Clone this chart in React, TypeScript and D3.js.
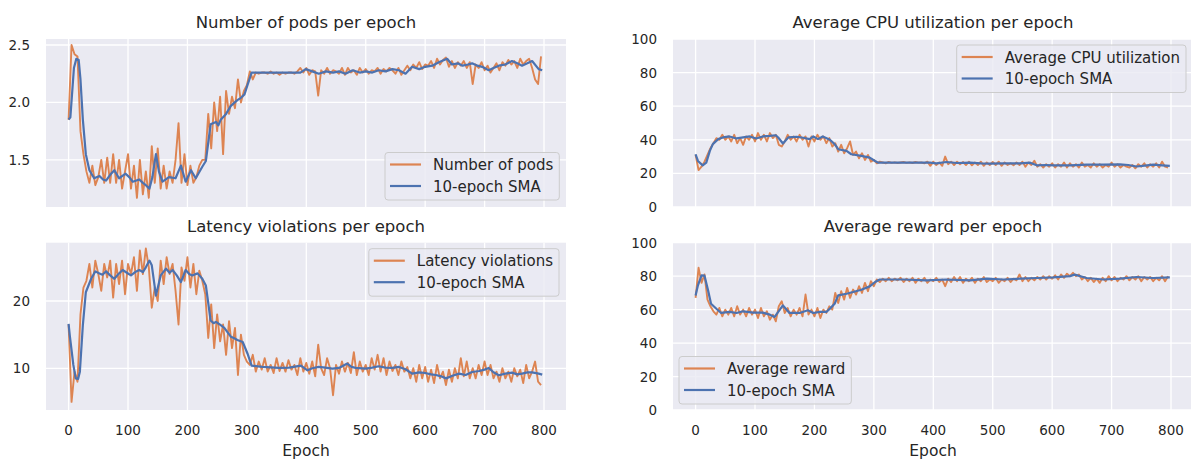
import React, { useEffect, useRef } from "react";
import * as d3 from "d3";

// raw values, one every 5 epochs (0..795)
const epochs = d3.range(0, 800, 5);

const podsRaw = [
  1.85, 2.5, 2.42, 2.4, 1.75, 1.55, 1.4, 1.3, 1.45, 1.28,
  1.35, 1.5, 1.3, 1.52, 1.3, 1.55, 1.3, 1.5, 1.25, 1.4,
  1.55, 1.25, 1.45, 1.17, 1.5, 1.2, 1.4, 1.17, 1.62, 1.3,
  1.6, 1.25, 1.45, 1.25, 1.4, 1.3, 1.5, 1.82, 1.3, 1.55,
  1.28, 1.45, 1.3, 1.35, 1.45, 1.5, 1.5, 1.9, 1.6, 2.0,
  1.75, 2.05, 1.55, 2.1, 1.9, 2.05, 1.95, 2.2, 2.0, 2.1,
  2.15, 2.27, 2.2, 2.26, 2.25, 2.26, 2.26, 2.25, 2.27, 2.25,
  2.26, 2.24, 2.26, 2.25, 2.26, 2.26, 2.25, 2.27, 2.3, 2.26,
  2.3, 2.24, 2.28, 2.27, 2.06, 2.28, 2.25, 2.3, 2.25, 2.28,
  2.27, 2.25, 2.3, 2.24, 2.3, 2.26, 2.28, 2.24, 2.3, 2.26,
  2.29, 2.25, 2.28, 2.27, 2.3, 2.25, 2.29, 2.27, 2.3, 2.28,
  2.25, 2.3, 2.24, 2.28, 2.32, 2.28, 2.33, 2.3, 2.35, 2.29,
  2.33, 2.32, 2.36, 2.3, 2.38, 2.33, 2.37, 2.39, 2.31, 2.36,
  2.3, 2.35, 2.32, 2.36, 2.3, 2.35, 2.16, 2.33, 2.3, 2.35,
  2.28, 2.32, 2.26, 2.3, 2.34, 2.28, 2.35, 2.32, 2.37, 2.33,
  2.36, 2.3, 2.38, 2.33, 2.36, 2.38, 2.3, 2.2, 2.16, 2.4,
];

const latencyRaw = [
  16.5, 5.0, 9.5, 8.0, 18.0, 22.0, 23.0, 25.5, 22.0, 26.0,
  24.0, 21.5, 25.5, 23.5, 26.0, 20.5, 25.5, 22.5, 26.0, 21.0,
  25.5, 24.0, 26.5, 21.5, 27.5, 24.0, 27.8, 25.0, 19.0, 22.0,
  20.0, 26.0, 22.5, 26.5, 24.0, 25.5, 21.5, 16.5, 25.0, 23.0,
  26.5, 22.0, 25.5, 21.0, 24.5, 23.0, 21.0, 14.5, 19.5, 13.0,
  18.0, 14.0, 16.5, 12.0, 17.0, 13.0, 16.0, 9.0, 15.0, 12.0,
  11.0, 10.5, 12.0, 9.5, 11.0, 9.8, 11.5, 9.5, 10.5, 9.3,
  11.5, 9.6, 10.8, 9.5, 11.2, 9.8, 10.5, 9.0, 11.5, 9.5,
  10.8, 9.2, 11.0, 8.8, 13.5, 10.0, 9.0, 11.5, 10.0, 6.0,
  10.5, 9.2, 11.0, 9.5, 10.8, 9.3, 12.4, 9.0, 11.0, 9.5,
  10.5, 9.0, 11.5, 9.8, 12.0, 9.5, 11.5, 9.0, 11.0, 9.6,
  10.5, 9.0, 11.0, 9.5, 10.2, 8.5, 10.0, 8.0, 10.5, 8.5,
  10.2, 8.0, 9.8, 7.8, 10.5, 8.5, 9.5, 7.5, 9.8, 8.0,
  10.0, 8.5, 11.5, 8.8, 11.0, 8.5, 10.0, 8.5, 10.5, 9.0,
  11.0, 9.0, 10.5, 8.5, 9.5, 8.0, 10.0, 8.5, 9.5, 8.0,
  10.0, 8.8, 9.8, 7.8, 10.5, 8.5, 9.5, 11.0, 8.0, 7.5,
];

const cpuRaw = [
  31, 22, 24, 27, 31, 35, 38, 41, 40, 43,
  40, 42, 39, 43, 38, 41, 37, 42, 40, 43,
  39, 44, 40, 43, 39, 44, 41, 43, 37, 36,
  39, 43, 40, 42, 39, 43, 40, 42, 36, 42,
  39, 43, 40, 42, 38, 41, 36, 38, 33, 37,
  32, 35, 39, 31, 33, 29, 32, 28, 31, 27,
  28, 26, 27, 26.5, 26, 26.8, 26.3, 26.6, 26.2, 26.5,
  26.8, 26.3, 26.6, 26.2, 26.8, 26.4, 26.5, 26.0, 27, 24.5,
  27, 25, 26.5, 24.5, 30, 25.5, 27, 25, 27, 25.5,
  26.8, 25, 27, 24.8, 26.5, 25, 27, 24.5, 26.5, 25,
  26.8, 25, 27, 24.5, 26.5, 25, 26, 24.8, 26.5, 25,
  27, 24, 26.5, 25, 27.5, 24, 25.5, 23.5, 25.5, 24,
  26, 23.5, 25.5, 24, 26.5, 23.5, 26, 24, 25.5, 23.5,
  26.5, 24, 25, 23.5, 26, 24, 25.5, 23.5, 25, 24,
  26.5, 24, 25.5, 23.5, 25, 24, 23.5, 25, 23, 25.5,
  24, 26, 23.5, 25.5, 24, 26, 23.5, 27, 24, 23.5,
];

const rewardRaw = [
  67, 85, 76, 81, 66, 62, 59, 57, 61, 56,
  60, 57, 61, 56, 62, 57, 60, 56, 61, 57,
  60, 55, 61, 56, 59, 54, 57, 53, 62, 65,
  58, 61, 56, 60, 57, 61, 56, 69, 57, 60,
  56, 61, 55, 60, 58, 62, 60, 70, 64, 71,
  66, 73, 67, 72, 69, 74, 70, 76, 71, 77,
  74, 78, 76.5, 78.5, 77, 79, 77, 78.5, 77.5, 79,
  76.5, 78.5, 77, 79, 76, 78.5, 77, 79, 76, 78,
  77, 79, 76.5, 78, 74, 78.5, 76.5, 79.5, 77, 79.5,
  76, 78.5, 77, 79, 76, 78.5, 77, 79.5, 76.5, 78,
  77, 79, 76, 78, 77, 79, 76.5, 78.5, 77.5, 81,
  77, 79.5, 77, 79, 77.5, 79.5, 78, 80, 78, 80,
  78.5, 80.5, 78, 81, 79, 81.5, 80, 82, 80, 81,
  78, 79.5, 77, 79, 76.5, 78.5, 76, 79, 77, 80,
  77.5, 79.5, 77, 79, 78, 80, 77.5, 79.5, 78, 80,
  77, 79.5, 78, 79.5, 77, 79, 77.5, 80, 77, 80,
];

// 10-epoch SMA as [epoch, value]
const podsSma = [
  [0, 1.85], [3, 1.87], [9, 2.3], [13, 2.38], [17, 2.37], [20, 2.2], [24, 1.85], [29, 1.55],
  [35, 1.41], [43, 1.34], [52, 1.36], [58, 1.33], [63, 1.32], [70, 1.37], [77, 1.41], [85, 1.34],
  [96, 1.38], [102, 1.35], [108, 1.31], [119, 1.33], [125, 1.3], [130, 1.28], [136, 1.25],
  [141, 1.35], [147, 1.55], [152, 1.4], [158, 1.31], [169, 1.35], [180, 1.34], [189, 1.45],
  [197, 1.31], [206, 1.41], [214, 1.34], [225, 1.44], [231, 1.49], [239, 1.81], [248, 1.83],
  [252, 1.8], [256, 1.85], [265, 1.9], [273, 1.97], [284, 2.02], [290, 2.04], [296, 2.07],
  [301, 2.15], [308, 2.26], [330, 2.26], [360, 2.26], [390, 2.26], [399, 2.29], [410, 2.27],
  [421, 2.25], [433, 2.27], [445, 2.26], [455, 2.27], [466, 2.25], [478, 2.28], [490, 2.26],
  [500, 2.27], [511, 2.26], [522, 2.28], [533, 2.27], [545, 2.29], [556, 2.28], [567, 2.25],
  [578, 2.31], [590, 2.29], [600, 2.31], [612, 2.32], [623, 2.35], [637, 2.38], [645, 2.33],
  [655, 2.34], [663, 2.32], [672, 2.33], [679, 2.34], [688, 2.32], [696, 2.31], [707, 2.28],
  [715, 2.3], [724, 2.32], [735, 2.33], [746, 2.36], [755, 2.34], [763, 2.32], [772, 2.34],
  [780, 2.36], [791, 2.29], [797, 2.28],
];

const latencySma = [
  [0, 16.6], [2, 14.9], [8, 10.5], [12, 8.5], [16, 8.4], [19, 9.5], [24, 16.4], [29, 21.3],
  [38, 23.3], [45, 24.4], [52, 24.1], [57, 23.9], [63, 24.4], [70, 23.8], [77, 23.3], [84, 24.0],
  [91, 24.6], [98, 24.2], [105, 23.8], [112, 24.3], [119, 24.6], [125, 24.3], [130, 25.0],
  [136, 26.0], [140, 25.3], [147, 20.8], [155, 23.8], [164, 24.8], [170, 24.2], [175, 24.6],
  [182, 23.8], [189, 22.8], [197, 24.6], [203, 24.0], [208, 23.8], [217, 24.1], [225, 23.3],
  [231, 22.3], [239, 17.1], [244, 16.7], [248, 16.9], [256, 16.4], [262, 16.0], [267, 15.4],
  [273, 14.7], [278, 14.5], [284, 14.2], [293, 13.9], [301, 12.2], [308, 10.4], [326, 10.2],
  [354, 10.05], [371, 10.1], [391, 10.4], [402, 9.7], [410, 10.0], [421, 10.2], [432, 10.1],
  [444, 9.95], [455, 10.05], [469, 10.7], [476, 10.2], [483, 10.05], [500, 9.95], [511, 10.1],
  [522, 10.3], [533, 10.1], [545, 10.05], [556, 10.2], [567, 9.85], [578, 9.2], [590, 9.4],
  [600, 9.3], [610, 9.1], [618, 9.0], [627, 8.8], [635, 8.5], [646, 8.9], [657, 9.2], [668, 9.0],
  [679, 9.45], [691, 9.6], [700, 9.8], [707, 10.05], [715, 9.4], [724, 8.96], [735, 9.2],
  [746, 9.35], [755, 9.1], [763, 9.2], [772, 9.4], [780, 9.4], [791, 9.2], [797, 9.05],
];

const cpuSma = [
  [0, 31.4], [4, 27.4], [12, 24.8], [18, 26.4], [24, 33.4], [29, 37.4], [38, 40.4], [46, 41.4],
  [57, 42.0], [69, 40.8], [80, 41.4], [91, 42.0], [102, 40.8], [113, 42.0], [125, 42.3],
  [135, 42.7], [139, 41.4], [147, 37.8], [156, 41.4], [170, 41.8], [181, 41.2], [192, 40.4],
  [198, 42.0], [206, 40.4], [214, 42.0], [226, 40.0], [234, 37.4], [240, 34.4], [254, 33.4],
  [262, 31.4], [279, 30.4], [293, 29.4], [302, 27.4], [307, 26.4], [394, 26.4], [405, 26.0],
  [422, 26.8], [440, 26.2], [462, 26.4], [480, 26.0], [495, 25.8], [518, 26.0], [546, 26.0],
  [563, 26.4], [574, 24.8], [590, 25.0], [602, 24.8], [630, 24.8], [658, 25.2], [686, 25.2],
  [714, 25.4], [728, 25.0], [742, 24.1], [756, 24.6], [770, 25.2], [785, 24.8], [798, 24.5],
];

const rewardSma = [
  [0, 68.5], [4, 74.5], [10, 80.5], [15, 80.3], [21, 71.5], [26, 63.5], [35, 60.5], [43, 58.0],
  [57, 58.6], [69, 58.0], [80, 59.0], [97, 58.2], [113, 58.2], [125, 57.0], [133, 55.6],
  [147, 62.5], [158, 58.0], [175, 58.0], [189, 59.6], [198, 58.0], [209, 58.6], [220, 58.6],
  [226, 60.6], [234, 63.5], [240, 68.5], [254, 69.5], [265, 70.5], [279, 71.9], [293, 73.9],
  [302, 76.5], [310, 78.0], [350, 78.0], [389, 77.5], [422, 78.0], [462, 77.5], [490, 78.5],
  [518, 78.0], [546, 78.5], [574, 78.9], [602, 79.3], [630, 80.0], [638, 80.9], [658, 78.9],
  [686, 78.0], [714, 78.5], [742, 79.5], [770, 78.9], [798, 79.3],
];

const xTicks = [0, 100, 200, 300, 400, 500, 600, 700, 800];

const ORANGE = "#dd8452";
const BLUE = "#4c72b0";
const TEXT = "#262626";
const FONT = "DejaVu Sans, sans-serif";

const App = () => {
  const svgRef = useRef(null);

  useEffect(() => {
    const width = 1191;
    const height = 459;

    const panels = [
      {
        title: "Number of pods per epoch", label: "Number of pods", raw: podsRaw, sma: podsSma,
        left: 46, right: 566, top: 39, bottom: 207, yDomain: [1.09, 2.552],
        yTicks: [1.5, 2.0, 2.5], fmt: d3.format(".1f"), legend: "lower right", xLabels: false,
      },
      {
        title: "Latency violations per epoch", label: "Latency violations", raw: latencyRaw, sma: latencySma,
        left: 46, right: 566, top: 242.7, bottom: 410, yDomain: [3.8, 28.66],
        yTicks: [10, 20], fmt: d3.format("d"), legend: "upper right", xLabels: true,
      },
      {
        title: "Average CPU utilization per epoch", label: "Average CPU utilization", raw: cpuRaw, sma: cpuSma,
        left: 673, right: 1193, top: 39, bottom: 207, yDomain: [0, 100],
        yTicks: [0, 20, 40, 60, 80, 100], fmt: d3.format("d"), legend: "upper right", xLabels: false,
      },
      {
        title: "Average reward per epoch", label: "Average reward", raw: rewardRaw, sma: rewardSma,
        left: 673, right: 1193, top: 242.7, bottom: 410, yDomain: [0, 100],
        yTicks: [0, 20, 40, 60, 80, 100], fmt: d3.format("d"), legend: "lower left", xLabels: true,
      },
    ];

    const svg = d3.select(svgRef.current)
      .attr("width", width)
      .attr("height", height)
      .attr("viewBox", [0, 0, width, height]);
    svg.selectAll("*").remove();
    svg.append("rect").attr("width", width).attr("height", height).attr("fill", "#fff");

    panels.forEach((p, i) => {
      const x = d3.scaleLinear().domain([-38, 837]).range([p.left, p.right]);
      const y = d3.scaleLinear().domain(p.yDomain).range([p.bottom, p.top]);
      const g = svg.append("g");

      g.append("rect")
        .attr("x", p.left).attr("y", p.top)
        .attr("width", p.right - p.left).attr("height", p.bottom - p.top)
        .attr("fill", "#eaeaf2");

      g.append("clipPath").attr("id", `clip${i}`)
        .append("rect")
        .attr("x", p.left).attr("y", p.top)
        .attr("width", p.right - p.left).attr("height", p.bottom - p.top);

      // grid
      g.selectAll(".gx").data(xTicks).join("line")
        .attr("x1", (d) => x(d)).attr("x2", (d) => x(d))
        .attr("y1", p.top).attr("y2", p.bottom)
        .attr("stroke", "#fff").attr("stroke-width", 1.3);
      g.selectAll(".gy").data(p.yTicks).join("line")
        .attr("x1", p.left).attr("x2", p.right)
        .attr("y1", (d) => y(d)).attr("y2", (d) => y(d))
        .attr("stroke", "#fff").attr("stroke-width", 1.3);

      // y tick labels
      g.selectAll(".ty").data(p.yTicks).join("text")
        .attr("x", p.left - 16).attr("y", (d) => y(d) + 5)
        .attr("text-anchor", "end")
        .attr("font-family", FONT).attr("font-size", 13.5).attr("fill", TEXT)
        .text((d) => p.fmt(d));

      if (p.xLabels) {
        g.selectAll(".tx").data(xTicks).join("text")
          .attr("x", (d) => x(d)).attr("y", p.bottom + 25)
          .attr("text-anchor", "middle")
          .attr("font-family", FONT).attr("font-size", 13.5).attr("fill", TEXT)
          .text((d) => d);
        g.append("text")
          .attr("x", (p.left + p.right) / 2).attr("y", p.bottom + 46)
          .attr("text-anchor", "middle")
          .attr("font-family", FONT).attr("font-size", 15.5).attr("fill", TEXT)
          .text("Epoch");
      }

      g.append("text")
        .attr("x", (p.left + p.right) / 2).attr("y", p.top - 11)
        .attr("text-anchor", "middle")
        .attr("font-family", FONT).attr("font-size", 16.5).attr("fill", TEXT)
        .text(p.title);

      const lines = g.append("g").attr("clip-path", `url(#clip${i})`);
      const rawLine = d3.line().x((d, j) => x(epochs[j])).y((d) => y(d));
      lines.append("path")
        .attr("d", rawLine(p.raw))
        .attr("fill", "none").attr("stroke", ORANGE).attr("stroke-width", 1.9)
        .attr("stroke-linejoin", "round");
      const smaLine = d3.line().x((d) => x(d[0])).y((d) => y(d[1]));
      lines.append("path")
        .attr("d", smaLine(p.sma))
        .attr("fill", "none").attr("stroke", BLUE).attr("stroke-width", 2.2)
        .attr("stroke-linejoin", "round");

      // legend
      const lg = g.append("g");
      const box = lg.append("rect");
      const labels = [[p.label, ORANGE], ["10-epoch SMA", BLUE]];
      const texts = labels.map(([t], k) =>
        lg.append("text")
          .attr("x", 48).attr("y", 12 + k * 21.5 + 5.5)
          .attr("font-family", FONT).attr("font-size", 15).attr("fill", TEXT)
          .text(t)
      );
      labels.forEach(([, c], k) => {
        lg.append("line")
          .attr("x1", 5).attr("x2", 36)
          .attr("y1", 12 + k * 21.5).attr("y2", 12 + k * 21.5)
          .attr("stroke", c).attr("stroke-width", 2.2);
      });
      const tw = d3.max(texts, (t) => t.node().getComputedTextLength());
      const bw = 48 + tw + 6;
      const bh = 47.5;
      box.attr("width", bw).attr("height", bh).attr("rx", 3)
        .attr("fill", "#eaeaf2").attr("fill-opacity", 0.8)
        .attr("stroke", "#cccccc").attr("stroke-width", 1);
      let lx, ly;
      if (p.legend === "lower right") { lx = p.right - 6.7 - bw; ly = p.bottom - 7 - bh; }
      else if (p.legend === "upper right") { lx = p.right - 7 - bw; ly = p.top + 6; }
      else { lx = p.left + 6; ly = p.bottom - 6 - bh; }
      lg.attr("transform", `translate(${lx},${ly})`);
    });
  }, []);

  return (
    <div style={{ position: "absolute", left: 0, top: 0 }}>
      <svg ref={svgRef} style={{ display: "block" }}></svg>
    </div>
  );
};

export default App;
